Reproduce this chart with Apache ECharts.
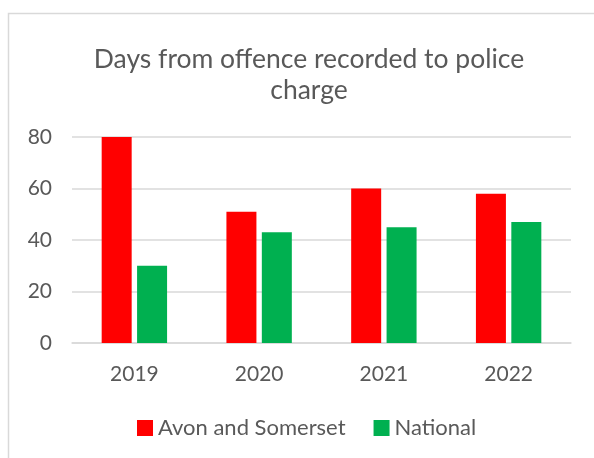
<!DOCTYPE html>
<html>
<head>
<meta charset="utf-8">
<script src="https://cdn.jsdelivr.net/npm/echarts@6/dist/echarts.min.js"></script>
<style>
  html, body { margin: 0; padding: 0; background: #fff; }
  #chart { width: 594px; height: 458px; }
</style>
</head>
<body>
<div id="chart"></div>
<script>
const years = ['2019', '2020', '2021', '2022']
const avonSomerset = [80, 51, 60, 58]
const national = [30, 43, 45, 47]
const yTicks = [0, 20, 40, 60, 80]

const font = 'Lato, "Open Sans", sans-serif'
const textColor = '#595959'

const chart = echarts.init(document.getElementById('chart'))

chart.setOption({
  animation: false,
  // light frame round the chart area, as in the source picture
  graphic: [
    {
      type: 'rect',
      shape: { x: 8.5, y: 13.5, width: 620, height: 480 },
      style: { fill: 'none', stroke: '#d9d9d9', lineWidth: 1.5 },
      z: -1,
    },
  ],
  title: {
    text: 'Days from offence recorded to police\ncharge',
    left: 304,
    top: 39,
    textAlign: 'center',
    textStyle: {
      fontFamily: font,
      fontSize: 26.5,
      fontWeight: 'normal',
      color: textColor,
      lineHeight: 31,
    },
  },
  legend: {
    top: 412,
    left: 132,
    itemWidth: 16,
    itemHeight: 16,
    itemGap: 28,
    icon: 'rect',
    textStyle: { fontFamily: font, fontSize: 22, color: textColor },
    data: ['Avon and Somerset', 'National'],
  },
  grid: {
    left: 72,
    right: 23,
    top: 137,
    bottom: 115,
  },
  xAxis: {
    type: 'category',
    data: years,
    axisLine: { show: true, lineStyle: { color: '#d9d9d9', width: 1.5 } },
    axisTick: { show: false },
    axisLabel: {
      fontFamily: font,
      fontSize: 21,
      color: textColor,
      margin: 21,
    },
  },
  yAxis: {
    type: 'value',
    min: yTicks[0],
    max: yTicks[yTicks.length - 1],
    interval: 20,
    axisLine: { show: false },
    axisTick: { show: false },
    splitLine: { lineStyle: { color: '#d9d9d9', width: 1.5 } },
    axisLabel: {
      fontFamily: font,
      fontSize: 21,
      color: textColor,
      margin: 20,
    },
  },
  series: [
    {
      name: 'Avon and Somerset',
      type: 'bar',
      data: avonSomerset,
      barWidth: 30,
      barGap: '18%',
      itemStyle: { color: '#ff0000' },
    },
    {
      name: 'National',
      type: 'bar',
      data: national,
      barWidth: 30,
      itemStyle: { color: '#00b050' },
    },
  ],
})
</script>
</body>
</html>
